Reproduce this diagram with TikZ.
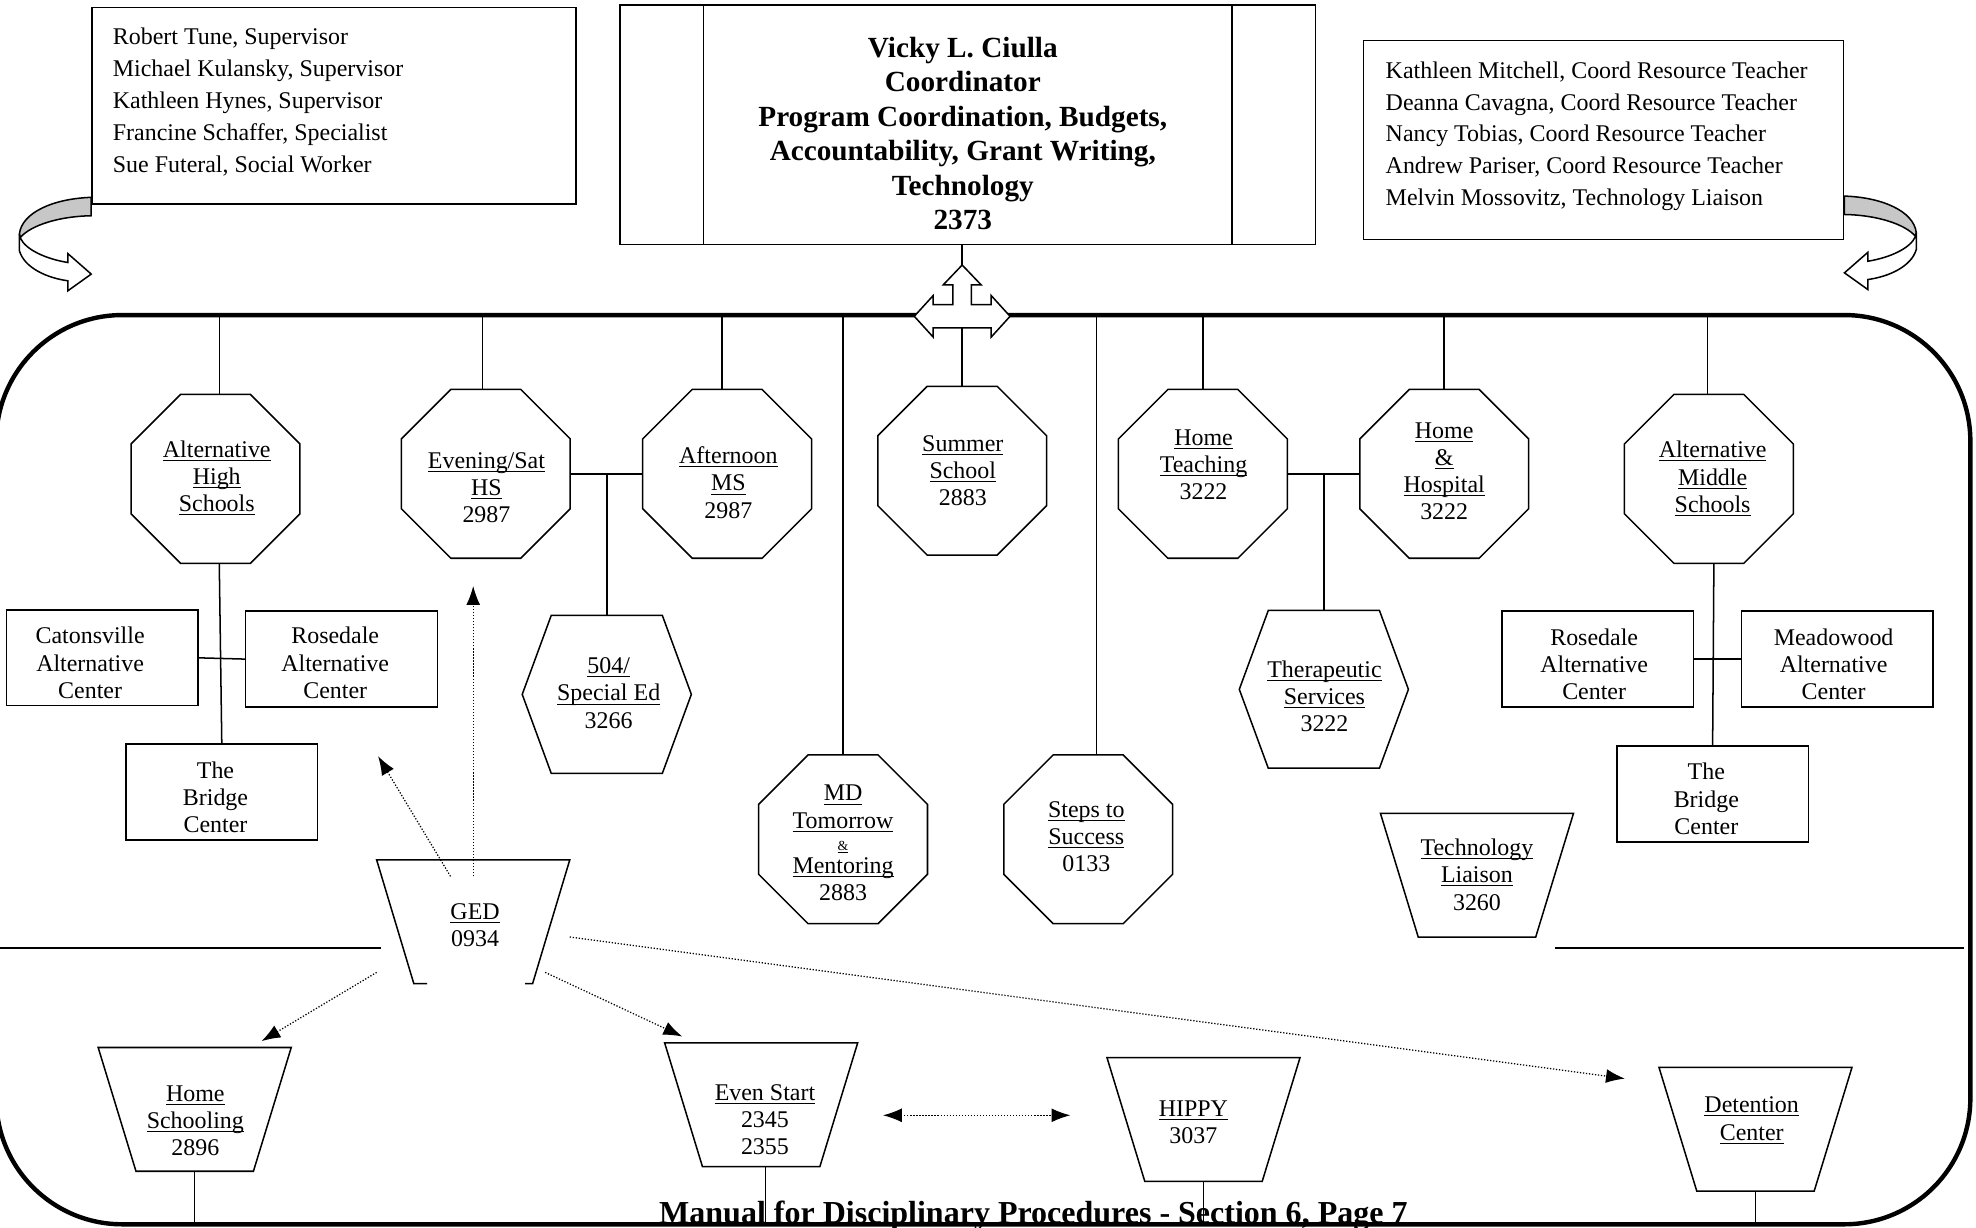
\documentclass[tikz,border=0pt]{standalone}
\usepackage{fontspec}
\setmainfont{Liberation Serif}
\usepackage{amsmath}
\usetikzlibrary{arrows.meta, shapes.geometric, calc}

\newcommand{\ul}[1]{\underline{\smash[b]{#1}}}

\begin{document}
\begin{tikzpicture}[x=1pt, y=-1pt, line width=1.2pt,
    namebox/.style = {draw, inner sep=0pt},
    unitbox/.style = {draw, inner sep=0pt, minimum width=152, minimum height=76},
    prog/.style = {draw, regular polygon, regular polygon sides=8, minimum size=145, inner sep=0pt},
    hexprog/.style = {inner sep=0pt, minimum width=133, minimum height=124},
    trapprog/.style = {inner sep=0pt, minimum width=152, minimum height=97},
    progtext/.style = {align=center, inner sep=0pt, font=\fontsize{19}{21.6}\selectfont},
    stafftext/.style = {align=left, anchor=west, inner sep=0pt, font=\fontsize{19}{25.25}\selectfont},
    wire/.style = {line width=1.2pt},
    refer/.style = {line width=1pt, dash pattern=on 1pt off 1.4pt},
    twist/.pic = {
        \draw[fill=black!22] (0,0) .. controls (-30,1) and (-55,12) .. (-57,29) -- (-56.4,32)
            .. controls (-48,22) and (-25,15) .. (0,14.6) -- cycle;
        \draw[fill=white] (-57,29) -- (-57,42.4) .. controls (-53,56) and (-35,64) .. (-18.6,66.2)
            -- (-18.6,74.2) -- (0,60.9) -- (-18.6,44.6) -- (-18.6,51.7)
            .. controls (-35,49) and (-52,42) .. (-56.4,32) -- cycle;
    }]
    \useasboundingbox (0,0) rectangle (1568,974);

    % staff and coordinator
    \node[namebox, minimum width=384, minimum height=156] (staffl) at (265,84) {};
    \node[namebox, minimum width=552, minimum height=190] (coord) at (768,99) {};
    \node[namebox, minimum width=381, minimum height=158] (staffr) at (1272.5,111) {};
    \node[stafftext] (staffl-t) at (89,81) {Robert Tune, Supervisor\\Michael Kulansky, Supervisor\\Kathleen Hynes, Supervisor\\Francine Schaffer, Specialist\\Sue Futeral, Social Worker};
    \node[stafftext] (staffr-t) at (1099,108) {Kathleen Mitchell, Coord Resource Teacher\\Deanna Cavagna, Coord Resource Teacher\\Nancy Tobias, Coord Resource Teacher\\Andrew Pariser, Coord Resource Teacher\\Melvin Mossovitz, Technology Liaison};
    \node[align=center, inner sep=0pt, font=\fontsize{23.2}{27.4}\selectfont\bfseries] (coord-t) at (764,106)
        {Vicky L. Ciulla\\Coordinator\\Program Coordination, Budgets,\\Accountability, Grant Writing,\\Technology\\2373};
    \draw[wire] ([xshift=67pt]coord.north west) -- ([xshift=67pt]coord.south west);
    \draw[wire] ([xshift=-67pt]coord.north east) -- ([xshift=-67pt]coord.south east);
    \pic at ($(staffl.south west)+(0,-6)$) {twist};
    \pic[xscale=-1] at ($(staffr.south east)+(0,-35)$) {twist};

    % programs
    \node[prog] (ahs) at (171,380) {};
    \node[prog] (eve) at (385.5,376) {};
    \node[prog] (aft) at (577,376) {};
    \node[prog] (summer) at (763.5,373.5) {};
    \node[prog] (ht) at (954.5,376) {};
    \node[prog] (hh) at (1146,376) {};
    \node[prog] (ams) at (1356,380) {};
    \node[prog] (md) at (669,666) {};
    \node[prog] (steps) at (863.5,666) {};
    \node[hexprog] (sped) at (481.5,551) {};
    \node[hexprog] (ther) at (1050.5,547) {};
    \foreach \h in {sped, ther}
        \draw (\h.west) -- ([xshift=23pt]\h.north west) -- ([xshift=-23pt]\h.north east) -- (\h.east)
            -- ([xshift=-23pt]\h.south east) -- ([xshift=23pt]\h.south west) -- cycle;

    \node[progtext] (ahs-t) at (172,379.5) {\ul{Alternative}\\\ul{High}\\\ul{Schools}};
    \node[progtext] (eve-t) at (386,387) {\ul{Evening/Sat}\\\ul{HS}\\2987};
    \node[progtext] (aft-t) at (578,383) {\ul{Afternoon}\\\ul{MS}\\2987};
    \node[progtext] (summer-t) at (764,373.5) {\ul{Summer}\\\ul{School}\\2883};
    \node[progtext] (ht-t) at (955,369) {\ul{Home}\\\ul{Teaching}\\3222};
    \node[progtext] (hh-t) at (1146,374) {\ul{Home}\\\ul{\&}\\\ul{Hospital}\\3222};
    \node[progtext] (ams-t) at (1359,380) {\ul{Alternative}\\\ul{Middle}\\\ul{Schools}};
    \node[progtext] (md-t) at (669,669) {\ul{MD}\\\ul{Tomorrow}\\[-3.6pt]{\fontsize{11}{11}\selectfont\ul{\&}}\\[-3.6pt]\ul{Mentoring}\\2883};
    \node[progtext] (steps-t) at (862,664) {\ul{Steps to}\\\ul{Success}\\0133};
    \node[progtext] (sped-t) at (483,550) {\ul{504/}\\\ul{Special Ed}\\3266};
    \node[progtext] (ther-t) at (1051,552.7) {\ul{Therapeutic}\\\ul{Services}\\3222};

    % alternative centers
    \node[unitbox] (cat) at (81,522) {};
    \node[unitbox] (rosl) at (271,523) {};
    \node[unitbox] (bridgel) at (176,628.5) {};
    \node[unitbox] (rosr) at (1268,523) {};
    \node[unitbox] (mead) at (1458,523) {};
    \node[unitbox] (bridger) at (1359,630) {};
    \node[progtext] (cat-t) at (71.5,526) {Catonsville\\Alternative\\Center};
    \node[progtext] (rosl-t) at (266,526) {Rosedale\\Alternative\\Center};
    \node[progtext] (bridgel-t) at (171,632.7) {The\\Bridge\\Center};
    \node[progtext] (rosr-t) at (1265,527) {Rosedale\\Alternative\\Center};
    \node[progtext] (mead-t) at (1455,527) {Meadowood\\Alternative\\Center};
    \node[progtext] (bridger-t) at (1354,634) {The\\Bridge\\Center};

    % trapezoid programs
    \node[trapprog] (tl) at (1172,694.5) {};
    \node[trapprog] (ged) at (375.5,731.5) {};
    \node[trapprog] (hs) at (154.5,880.3) {};
    \node[trapprog] (es) at (604,876.6) {};
    \node[trapprog] (hippy) at (955,888.3) {};
    \node[trapprog] (det) at (1393,896) {};
    \foreach \t in {tl, hs, es, hippy, det}
        \draw (\t.north west) -- (\t.north east) -- ([xshift=-30pt]\t.south east) -- ([xshift=30pt]\t.south west) -- cycle;
    \draw ([xshift=40pt]ged.south west) -- ([xshift=29.5pt]ged.south west) -- (ged.north west) -- (ged.north east)
        -- ([xshift=-29.5pt]ged.south east) -- ([xshift=-35.5pt]ged.south east);
    \node[progtext] (tl-t) at (1172,694) {\ul{Technology}\\\ul{Liaison}\\3260};
    \node[progtext] (ged-t) at (377,734) {\ul{GED}\\0934};
    \node[progtext] (hs-t) at (155,889.5) {\ul{Home}\\\ul{Schooling}\\2896};
    \node[progtext] (es-t) at (607,888.6) {\ul{Even Start}\\2345\\2355};
    \node[progtext] (hippy-t) at (947,890.8) {\ul{HIPPY}\\3037};
    \node[progtext] (det-t) at (1390,889.3) {\ul{Detention}\\\ul{Center}};

    \node[anchor=base, inner sep=0pt, font=\fontsize{25.4}{30}\selectfont\bfseries] (footer) at (820,971)
        {Manual for Disciplinary Procedures - Section 6, Page 7};

    % connectors
    \coordinate (bar) at (0,250);
    \coordinate (floor) at (0,972);
    \coordinate (hub) at (763.5,251);
    \foreach \p/\dx in {ahs/3, eve/-2.5, aft/-4, md/0, steps/6.5, ht/0, hh/0, ams/-1}
        \draw[wire] ($(\p.north)+(\dx,0)$) -- ($(\p.north |- bar)+(\dx,0)$);
    \draw[wire] (summer.north) -- (summer.north |- hub);
    \draw[wire] (coord.south -| hub) -- (hub);
    \draw[wire] (eve.east) -- (aft.west);
    \draw[wire] (sped.north) -- (sped.north |- eve.east);
    \draw[wire] (ht.east) -- (hh.west);
    \draw[wire] (ther.north) -- (ther.north |- ht.east);
    \draw[wire] ($(ahs.south)+(3,0)$) -- (bridgel.north);
    \draw[wire] (cat.east) -- (rosl.west);
    \draw[wire] ($(ams.south)+(4,0)$) -- (bridger.north);
    \draw[wire] (rosr.east) -- (mead.west);
    \foreach \p/\dx in {hs/0, es/3.5, hippy/0, det/0}
        \draw[wire] ($(\p.south)+(\dx,0)$) -- ($(\p.south |- floor)+(\dx,0)$);

    % dotted referrals from GED
    \coordinate (up1) at (375.5,465);
    \coordinate (up2) at (300,600);
    \draw[refer, -{Latex[length=15pt, width=11pt]}] ($(ged.north)+(0,13)$) -- (up1);
    \draw[refer, -{Latex[length=15pt, width=11pt]}] ($(ged.north)+(-18,13)$) -- (up2);
    \draw[refer, -{Latex[length=15pt, width=11pt]}] ($(ged.south west)+(0,-9)$) -- ($(hs.north)+(53,-5)$);
    \draw[refer, -{Latex[length=15pt, width=11pt]}] ($(ged.south east)+(-19.5,-9)$) -- ($(es.north west)+(14,-5)$);
    \draw[refer, -{Latex[length=15pt, width=11pt]}] ($(ged.east)+(0,12)$) -- ($(det.north west)+(-27,9)$);
    \draw[refer, {Latex[length=15pt, width=11pt]}-{Latex[length=15pt, width=11pt]}] ($(es.east)+(20,8.4)$) -- ($(hippy.west)+(-29,-3.3)$);

    \draw[line width=1.4pt] (0,752) -- (302,752);
    \draw[line width=1.4pt] (1234,752) -- (1558.5,752);

    % frame and hub arrow
    \draw[line width=3.5pt, rounded corners=100pt] (-3,250) rectangle (1563.5,971.5);
    \draw[fill=white, shift={(hub)}] (0,-40.7) -- (15,-25) -- (7.3,-25) -- (7.3,-9.2) -- (23,-9.2) -- (23,-16.5)
        -- (38,0) -- (23,16.5) -- (23,9.2) -- (-23,9.2) -- (-23,16.5) -- (-38,0) -- (-23,-16.5)
        -- (-23,-9.2) -- (-7.3,-9.2) -- (-7.3,-25) -- (-15,-25) -- cycle;
\end{tikzpicture}
\end{document}
